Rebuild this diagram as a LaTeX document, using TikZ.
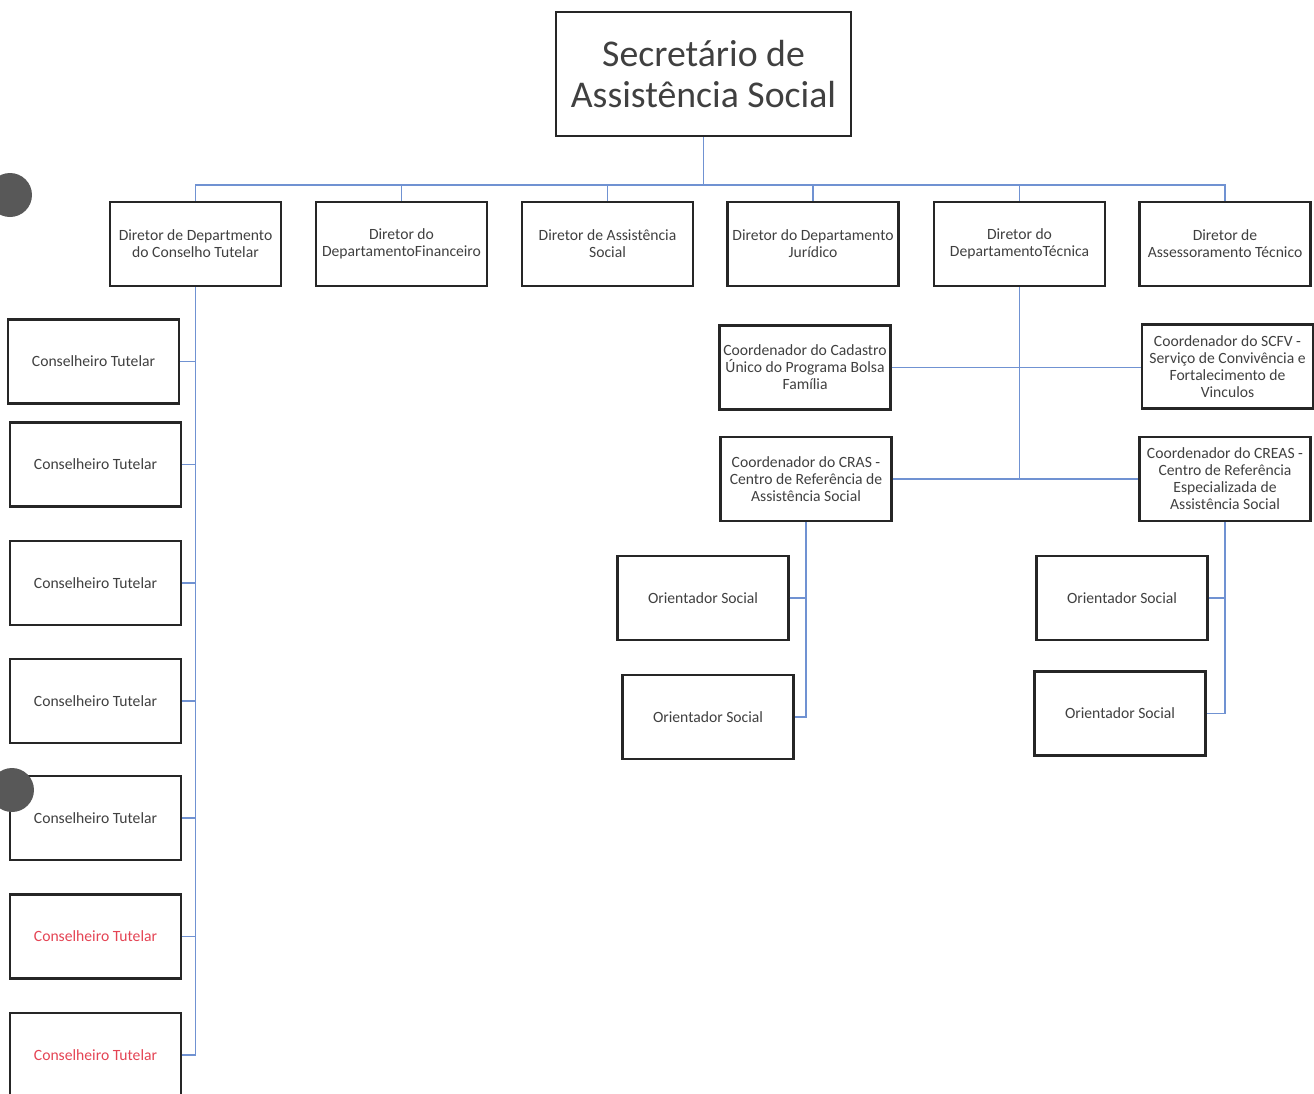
\documentclass[tikz,border=0pt]{standalone}
\usepackage{fontspec}
\setmainfont{Carlito}
\usepackage{tikz}
\usetikzlibrary{positioning}
\definecolor{txtgray}{RGB}{64,64,64}
\definecolor{linkblue}{RGB}{112,146,210}
\definecolor{txtred}{RGB}{228,68,84}
\definecolor{dotgray}{RGB}{88,88,88}
\tikzstyle{chief} = [rectangle, sharp corners, draw=black!85, line width=1.2pt,
                     text=txtgray, align=center, minimum width=5.9cm,
                     minimum height=2.48cm, font=\fontsize{21.5}{23}\selectfont]
\tikzstyle{unit} = [rectangle, sharp corners, draw=black!85, line width=1.2pt,
                     text=txtgray, align=center,
                     minimum width=3.42cm, minimum height=1.68cm, inner sep=1pt,
                     font=\fontsize{8.9}{9.7}\selectfont]
\tikzstyle{link} = [draw=linkblue, line width=0.9pt]

\begin{document}
\begin{tikzpicture}[x=0.02cm, y=-0.02cm,
punch/.style={circle, fill=dotgray, draw=none, minimum size=0.88cm}]
\useasboundingbox (0,0) rectangle (1314,1093);

%Secretario
\node [chief] at (703.5,74) (sec){Secretário de\\Assistência Social};
\coordinate (bus) at (703.5,185);

%Diretores
\node [unit] at (195.5,244) (dir1){Diretor de Departmento\\do Conselho Tutelar};
\node [unit] at (401.5,244) (dir2){Diretor do\\DepartamentoFinanceiro};
\node [unit] at (607.5,244) (dir3){Diretor de Assistência\\Social};
\node [unit] at (813,244) (dir4){Diretor do Departamento\\Jurídico};
\node [unit] at (1019.5,244) (dir5){Diretor do\\DepartamentoTécnica};
\node [unit] at (1225,244) (dir6){Diretor de\\Assessoramento Técnico};

% Conselheiros
\node [unit] at (93.5,361.5) (cons1){Conselheiro Tutelar};
\node [unit] at (95.5,464.5) (cons2){Conselheiro Tutelar};
\node [unit] at (95.5,583) (cons3){Conselheiro Tutelar};
\node [unit] at (95.5,701) (cons4){Conselheiro Tutelar};
\node [unit] at (95.5,818) (cons5){Conselheiro Tutelar};
\node [unit, text=txtred] at (95.5,936.5) (cons6){Conselheiro Tutelar};
\node [unit, text=txtred] at (95.5,1055) (cons7){Conselheiro Tutelar};

% Coordenadores
\node [unit] at (805,367.5) (cad){Coordenador do Cadastro\\Único do Programa Bolsa\\Família};
\node [unit] at (1227.5,366.5) (scfv){Coordenador do SCFV -\\Serviço de Convivência e\\Fortalecimento de\\Vinculos};
\node [unit] at (806,479) (cras){Coordenador do CRAS -\\Centro de Referência de\\Assistência Social};
\node [unit] at (1225,479) (creas){Coordenador do CREAS -\\Centro de Referência\\Especializada de\\Assistência Social};

% Orientadores
\node [unit] at (703,598) (ori1){Orientador Social};
\node [unit] at (708,717) (ori2){Orientador Social};
\node [unit] at (1122,598) (ori3){Orientador Social};
\node [unit] at (1120,713.5) (ori4){Orientador Social};

%links
\draw [link] (sec.south) -- (bus);
\foreach \d in {dir1,dir2,dir3,dir4,dir5,dir6}
  \draw [link] (\d.north) |- (bus);
\draw [link] (dir1.south) |- (cons7.east);
\foreach \c in {cons1,cons2,cons3,cons4,cons5,cons6}
  \draw [link] (\c.east) -- (\c.east -| dir1.south);
\draw [link] (dir5.south) -- (dir5.south |- cras.east);
\draw [link] (cad.east) -- (scfv.west |- cad.east);
\draw [link] (cras.east) -- (creas.west);
\draw [link] (cras.south) |- (ori2.east);
\draw [link] (ori1.east) -- (ori1.east -| cras.south);
\draw [link] (creas.south) |- (ori4.east);
\draw [link] (ori3.east) -- (ori3.east -| creas.south);

% punch holes
\node [punch] at (10,195) (hole1){};
\node [punch] at (12,790) (hole2){};
\end{tikzpicture}
\end{document}
